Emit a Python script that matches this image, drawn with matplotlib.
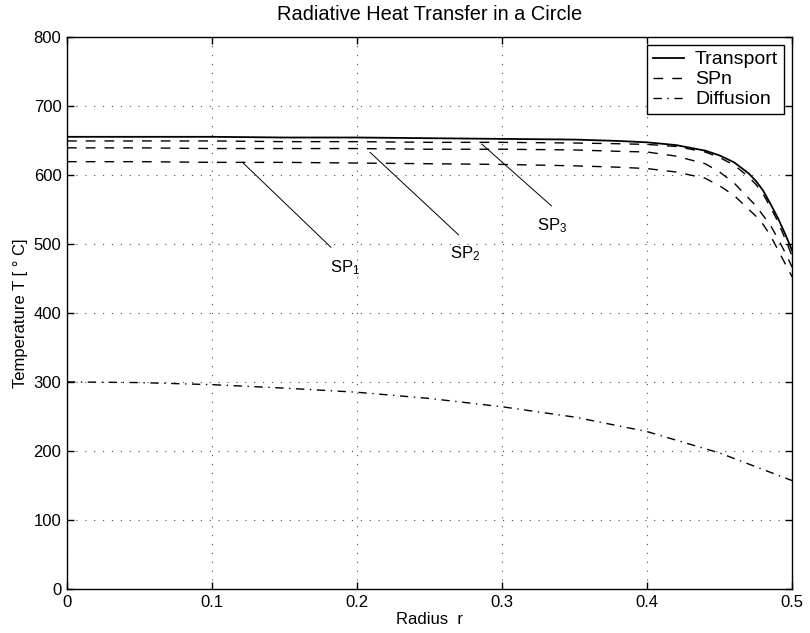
import matplotlib
matplotlib.use("Agg")
import matplotlib.pyplot as plt

plt.rcParams["font.family"] = ["Liberation Sans", "DejaVu Sans"]
plt.rcParams["mathtext.fontset"] = "custom"
plt.rcParams["mathtext.rm"] = "Liberation Sans"
plt.rcParams["mathtext.it"] = "Liberation Sans:italic"
plt.rcParams["font.size"] = 12

# radius samples
radius = [0, 0.05, 0.1, 0.15, 0.2, 0.25, 0.3, 0.35, 0.38, 0.4, 0.42, 0.44,
          0.45, 0.46, 0.47, 0.475, 0.48, 0.485, 0.49, 0.495, 0.5]

# temperature curves
transport = [655, 655, 655, 654, 654, 653, 652, 651, 649, 647, 643, 635,
             628, 618, 602, 591, 577, 558, 538, 515, 490]
sp3 = [649, 649, 649, 648, 648, 647, 647, 646, 645, 644, 641, 633,
       625, 614, 597, 586, 572, 553, 533, 508, 482]
sp2 = [639, 639, 638, 638, 638, 637, 637, 636, 634, 633, 627, 616,
       604, 588, 566, 555, 541, 527, 508, 488, 466]
sp1 = [619, 619, 618, 618, 617, 616, 615, 613, 611, 609, 604, 595,
       584, 570, 550, 540, 528, 512, 492, 472, 452]

diff_r = [0, 0.05, 0.1, 0.15, 0.2, 0.25, 0.3, 0.35, 0.4, 0.45, 0.5]
diffusion = [300, 299, 296, 291, 285, 276, 264, 249, 228, 197, 157]

x_ticks = [0, 0.1, 0.2, 0.3, 0.4, 0.5]
x_tick_labels = ["0", "0.1", "0.2", "0.3", "0.4", "0.5"]
y_ticks = [0, 100, 200, 300, 400, 500, 600, 700, 800]

fig = plt.figure(figsize=(8.1, 6.33), dpi=100)
ax = fig.add_axes([0.0827, 0.0695, 0.8953, 0.8725])

dash = (0, (7, 6.5))
dashdot = (0, (6, 4, 1, 4))

ax.plot(radius, transport, color="k", lw=1.3, label="Transport")
ax.plot(radius, sp3, color="k", lw=1.0, linestyle=dash, label="SPn")
ax.plot(radius, sp2, color="k", lw=1.0, linestyle=dash)
ax.plot(radius, sp1, color="k", lw=1.0, linestyle=dash)
ax.plot(diff_r, diffusion, color="k", lw=1.0, linestyle=dashdot,
        label="Diffusion")

# labels pointing at the SPn curves
ax.plot([0.121, 0.182], [618, 495], color="k", lw=0.7)
ax.text(0.181, 466, "SP$_1$", ha="left", va="center")
ax.plot([0.209, 0.270], [632.5, 513], color="k", lw=0.7)
ax.text(0.264, 486, "SP$_2$", ha="left", va="center")
ax.plot([0.286, 0.334], [644.5, 555], color="k", lw=0.7)
ax.text(0.324, 526, "SP$_3$", ha="left", va="center")

ax.set_xlim(0, 0.5)
ax.set_ylim(0, 800)
ax.set_xticks(x_ticks)
ax.set_xticklabels(x_tick_labels)
ax.set_yticks(y_ticks)
ax.tick_params(direction="in", length=5, top=True, right=True, width=1,
               pad=4)
ax.grid(True, color="0.3", linestyle=(0, (1, 7)), lw=0.8)
for s in ax.spines.values():
    s.set_linewidth(1.0)

ax.set_title("Radiative Heat Transfer in a Circle", pad=12)
ax.set_xlabel("Radius  r", labelpad=2)
ax.set_ylabel("Temperature T [ \u00b0 C]", labelpad=4)

leg = ax.legend(loc="upper right", bbox_to_anchor=(0.989, 0.985),
                borderaxespad=0, fancybox=False, framealpha=1,
                edgecolor="k", fontsize=14, handlelength=1.6,
                handletextpad=0.55, labelspacing=0.12, borderpad=0.3)
leg.get_frame().set_linewidth(1.0)

fig.savefig("out.png", dpi=100)
